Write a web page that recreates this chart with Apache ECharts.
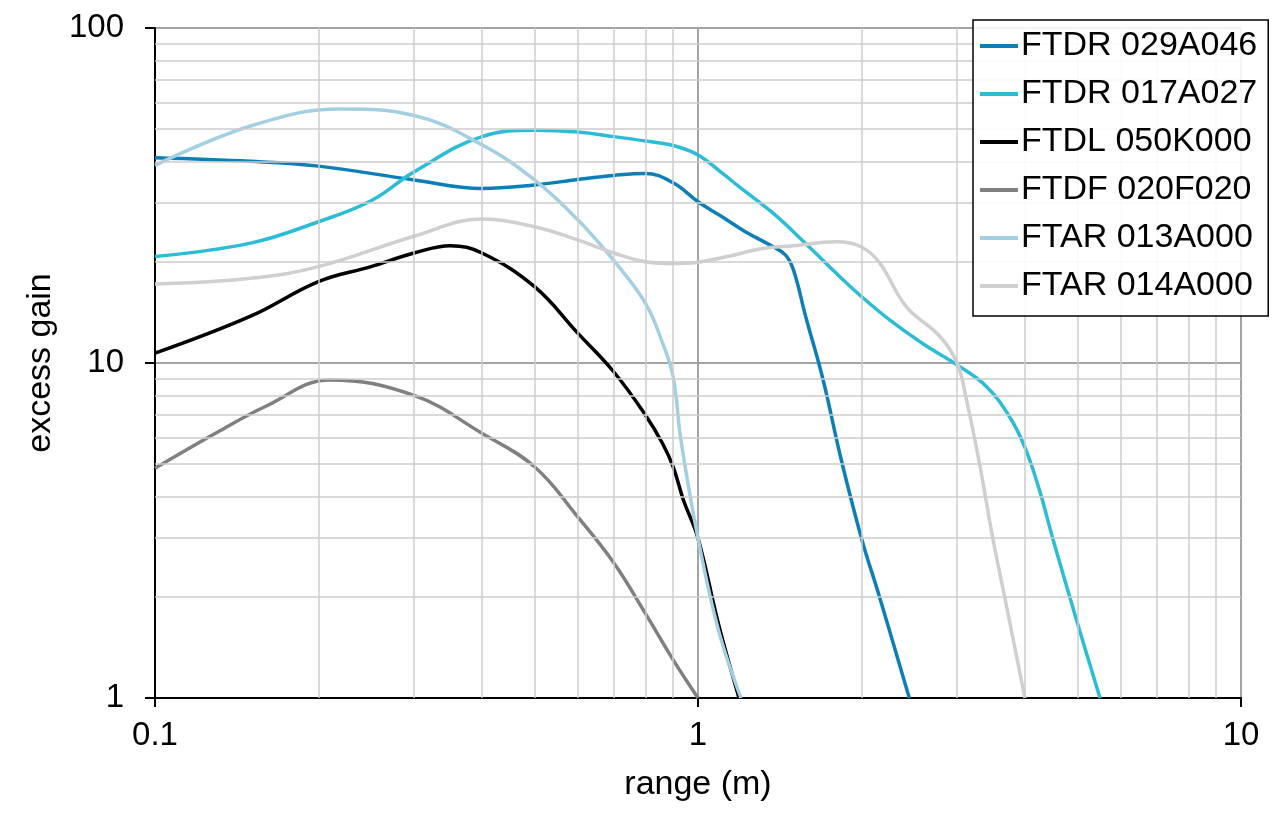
<!DOCTYPE html>
<html>
<head>
<meta charset="utf-8">
<title>excess gain vs range</title>
<script src="https://cdn.jsdelivr.net/npm/echarts@6.0.0/dist/echarts.min.js"></script>
<style>
  html, body { margin: 0; padding: 0; background: #fff; }
  #chart { width: 1280px; height: 826px; }
</style>
</head>
<body>
<div id="chart"></div>
<script>
// series names + colours
var names = ['FTDR 029A046', 'FTDR 017A027', 'FTDL 050K000', 'FTDF 020F020', 'FTAR 013A000', 'FTAR 014A000'];
var colors = ['#0e7fb6', '#2cbcd6', '#000000', '#808080', '#a3cfe3', '#cfcfcf'];

// range (m) / excess gain
var x029 = [0.1, 0.15, 0.2, 0.3, 0.4, 0.5, 0.6, 0.7, 0.8, 0.9, 1.0, 1.1, 1.22, 1.37, 1.45, 1.5, 1.58, 1.7, 1.83, 2.0, 2.16, 2.45];
var y029 = [41, 40, 38.7, 35.2, 33.2, 34, 35.3, 36.3, 36.8, 34.5, 30.3, 27.5, 24.7, 22.3, 21, 18.9, 13.7, 8.9, 5.25, 3.0, 2.0, 1.0];

var x017 = [0.1, 0.15, 0.2, 0.25, 0.3, 0.4, 0.5, 0.6, 0.7, 0.8, 0.9, 1.0, 1.11, 1.19, 1.375, 1.58, 1.825, 2.0, 2.26, 2.6, 3.0, 3.4, 3.75, 4.0, 4.25, 4.5, 5.0, 5.5];
var y017 = [20.8, 22.8, 26.4, 30.5, 37.2, 47.4, 49.5, 48.9, 47.4, 46, 44.6, 41.8, 36.8, 33.6, 28, 22.7, 18.1, 15.8, 13.4, 11.4, 9.87, 8.5, 6.9, 5.6, 4.2, 3.0, 1.67, 1.0];

var x050 = [0.1, 0.15, 0.2, 0.25, 0.3, 0.35, 0.4, 0.5, 0.6, 0.7, 0.8, 0.86, 0.9, 0.94, 1.0, 1.09, 1.19];
var y050 = [10.7, 13.8, 17.5, 19.4, 21.3, 22.4, 21.3, 16.9, 12.3, 9.4, 7.0, 5.76, 4.9, 3.9, 3.0, 1.67, 1.0];

var x020 = [0.1, 0.13, 0.16, 0.21, 0.3, 0.4, 0.5, 0.6, 0.7, 0.8, 0.9, 1.0];
var y020 = [4.85, 6.2, 7.43, 8.9, 8.0, 6.17, 4.9, 3.48, 2.53, 1.79, 1.30, 1.0];

var x013 = [0.1, 0.15, 0.22, 0.3, 0.4, 0.5, 0.6, 0.7, 0.8, 0.86, 0.9, 0.93, 1.0, 1.09, 1.2];
var y013 = [38.9, 51, 57.3, 54.8, 44.8, 35.2, 26.8, 20.2, 15.1, 11.5, 9.1, 5.9, 3.0, 1.6, 1.0];

var x014 = [0.1, 0.15, 0.2, 0.3, 0.4, 0.5, 0.6, 0.7, 0.8, 0.9, 1.0, 1.15, 1.3, 1.5, 1.8, 2.0, 2.16, 2.42, 2.79, 3.0, 3.12, 3.3, 3.49, 3.69, 4.0];
var y014 = [17.2, 17.9, 19.4, 23.9, 26.9, 25.5, 23.3, 21.3, 20.05, 19.8, 20.0, 20.9, 21.9, 22.4, 23.0, 22.2, 19.9, 14.7, 12.0, 10.0, 7.8, 5.0, 3.0, 1.92, 1.0];

// minor gridline positions
var xMinor = [0.2, 0.3, 0.4, 0.5, 0.6, 0.7, 0.8, 0.9, 2, 3, 4, 5, 6, 7, 8, 9];
var yMinor = [2, 3, 4, 5, 6, 7, 8, 9, 20, 30, 40, 50, 60, 70, 80, 90];

var xs = [x029, x017, x050, x020, x013, x014];
var ys = [y029, y017, y050, y020, y013, y014];

function pairs(a, b) {
  var out = [];
  for (var i = 0; i < a.length; i++) out.push([a[i], b[i]]);
  return out;
}

function fmt(v) {
  return String(+Number(v).toPrecision(3));
}

var FONT = '"Liberation Sans", Arial, sans-serif';

var chart = echarts.init(document.getElementById('chart'), null, { renderer: 'canvas' });

var series = [];
// minor grid lines behind everything
var minorLines = [];
xMinor.forEach(function (v) { minorLines.push({ xAxis: v }); });
yMinor.forEach(function (v) { minorLines.push({ yAxis: v }); });
series.push({
  type: 'line',
  name: '_minor',
  data: [],
  z: 1,
  silent: true,
  markLine: {
    silent: true,
    symbol: ['none', 'none'],
    label: { show: false },
    lineStyle: { type: 'solid', color: '#cdcdcd', width: 1.5 },
    animation: false,
    data: minorLines
  }
});

for (var i = 0; i < names.length; i++) {
  series.push({
    type: 'line',
    name: names[i],
    data: pairs(xs[i], ys[i]),
    smooth: 0.4,
    showSymbol: false,
    symbol: 'none',
    z: 3,
    lineStyle: { color: colors[i], width: 3.5 },
    itemStyle: { color: colors[i] }
  });
}

var option = {
  animation: false,
  backgroundColor: '#ffffff',
  grid: { left: 155, right: 39, top: 28, bottom: 128 },
  legend: {
    data: names,
    orient: 'vertical',
    left: 973,
    top: 20,
    padding: [6, 11, 10, 7],
    itemGap: 8,
    itemWidth: 38,
    itemHeight: 4,
    icon: 'rect',
    backgroundColor: 'rgba(255,255,255,0.88)',
    borderColor: '#000',
    borderWidth: 1.5,
    borderRadius: 0,
    z: 10,
    textStyle: { fontFamily: FONT, fontSize: 34, color: '#000', lineHeight: 40, padding: [0, 0, 0, -2] }
  },
  xAxis: {
    type: 'log',
    logBase: 10,
    min: 0.1,
    max: 10,
    name: 'range (m)',
    nameLocation: 'middle',
    nameGap: 70,
    nameTextStyle: { fontFamily: FONT, fontSize: 34, color: '#000' },
    axisLine: { show: true, onZero: false, lineStyle: { color: '#000', width: 2 } },
    axisTick: { show: true, inside: false, length: 9, lineStyle: { color: '#000', width: 2 } },
    axisLabel: { fontFamily: FONT, fontSize: 33, color: '#000', margin: 21, formatter: fmt },
    splitLine: { show: true, lineStyle: { color: '#a4a4a4', width: 2 } }
  },
  yAxis: {
    type: 'log',
    logBase: 10,
    min: 1,
    max: 100,
    name: 'excess gain',
    nameLocation: 'middle',
    nameGap: 90,
    nameRotate: 90,
    nameTextStyle: { fontFamily: FONT, fontSize: 34, color: '#000' },
    axisLine: { show: true, onZero: false, lineStyle: { color: '#000', width: 2 } },
    axisTick: { show: true, inside: false, length: 10, lineStyle: { color: '#000', width: 2 } },
    axisLabel: { fontFamily: FONT, fontSize: 33, color: '#000', margin: 31, formatter: fmt },
    splitLine: { show: true, lineStyle: { color: '#a4a4a4', width: 2 } }
  },
  series: series
};

chart.setOption(option);
</script>
</body>
</html>
